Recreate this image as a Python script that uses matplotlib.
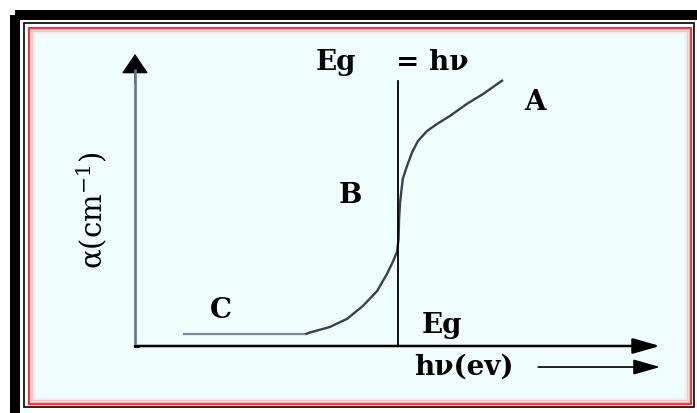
import matplotlib
matplotlib.use("Agg")
import matplotlib.pyplot as plt
from matplotlib.patches import Rectangle, FancyArrowPatch, ArrowStyle

# ---- data (schematic absorption edge, arbitrary units) ----
hv = [0.91, 3.24, 3.33, 3.71, 4.04, 4.34, 4.61, 4.80, 4.91, 4.99, 5.02, 5.03,
      5.05, 5.10, 5.18, 5.28, 5.39, 5.56, 5.75, 6.00, 6.32, 6.63, 7.01]
alpha = [0.40, 0.40, 0.46, 0.65, 0.93, 1.37, 1.88, 2.47, 2.88, 3.22, 3.66, 4.35,
         4.93, 5.72, 6.16, 6.64, 7.02, 7.36, 7.60, 7.88, 8.29, 8.63, 9.11]
eg_x = [5.01, 5.01]
eg_y = [0.0, 9.08]
region_labels = ["A", "B", "C"]
region_pos = [(7.62, 8.12), (4.11, 4.93), (1.64, 0.99)]

plt.rcParams['mathtext.fontset'] = 'dejavuserif'

W, H = 697, 414
fig = plt.figure(figsize=(W / 100, H / 100), dpi=100)
fig.patch.set_facecolor('white')

# ---- decorative frame (figure pixel space) ----
bg = fig.add_axes([0, 0, 1, 1])
bg.set_xlim(0, W)
bg.set_ylim(H, 0)
bg.axis('off')
bg.add_patch(Rectangle((15, 16), 720, 430, fill=False, ec='black', lw=7.2))
bg.add_patch(Rectangle((23.5, 23.5), 670.5, 384.5, fill=False, ec='black', lw=1.2))
bg.add_patch(Rectangle((28.5, 28.5), 662.5, 376.5, fc='#f0fdfd', ec='#f03030', lw=1.5))
for i, a in enumerate([0.45, 0.28, 0.15, 0.06]):
    d = 1.5 * (i + 1)
    bg.add_patch(Rectangle((28.5 + d, 28.5 + d), 662.5 - 2 * d, 376.5 - 2 * d,
                           fill=False, ec='#ff6060', alpha=a, lw=1.2))

# ---- schematic axes ----
ax = fig.add_axes([135 / W, (H - 347) / H, (660 - 135) / W, (347 - 55) / H])
ax.set_xlim(0, 10)
ax.set_ylim(0, 10)
ax.axis('off')
ax.patch.set_alpha(0)

def arrow(p0, p1, hl, hw, color, lw):
    a = FancyArrowPatch(p0, p1, arrowstyle=ArrowStyle('-|>', head_length=hl, head_width=hw),
                        mutation_scale=1, color=color, lw=lw, shrinkA=0, shrinkB=0,
                        clip_on=False, transform=ax.transData)
    ax.add_patch(a)

ax.plot([0, 0], [0, 9.5], color='#6c7485', lw=1.9, clip_on=False, solid_capstyle='butt')
arrow((0, 9.0), (0, 10), 12.5, 8.5, 'black', 1.0)
ax.plot([0, 0.05], [0, 0], color='black', lw=2, clip_on=False)
arrow((0, 0), (10, 0), 16.5, 4.7, 'black', 1.8)
arrow((7.68, -0.72), (10, -0.72), 16.5, 4.7, 'black', 1.2)

# curve
ax.plot(hv[:2], alpha[:2], color='#7d879a', lw=1.6, solid_capstyle='butt', clip_on=False)
ax.plot(hv[1:], alpha[1:], color='#3a404c', lw=1.7, solid_capstyle='butt',
        solid_joinstyle='round', clip_on=False)
ax.plot(eg_x, eg_y, color='black', lw=1.3, clip_on=False)

fs = 20
tk = dict(fontfamily='DejaVu Serif', fontweight='bold', fontsize=fs, color='black',
          va='baseline', ha='center', clip_on=False)
for lab, (x, y) in zip(region_labels, region_pos):
    ax.text(x, y, lab, **tk)
ax.text(3.83, 9.49, "Eg", **tk)
ax.text(5.66, 9.49, "= hν", **tk)
ax.text(5.85, 0.48, "Eg", **tk)
ax.text(6.27, -0.96, "hν(ev)", **tk)

ax.text(-0.82, 4.69, r"α(cm$^{-1}$)", fontfamily='DejaVu Serif', fontsize=21,
        rotation=90, ha='center', va='center', color='black', clip_on=False)

fig.savefig('out.png', dpi=100, facecolor='white')
